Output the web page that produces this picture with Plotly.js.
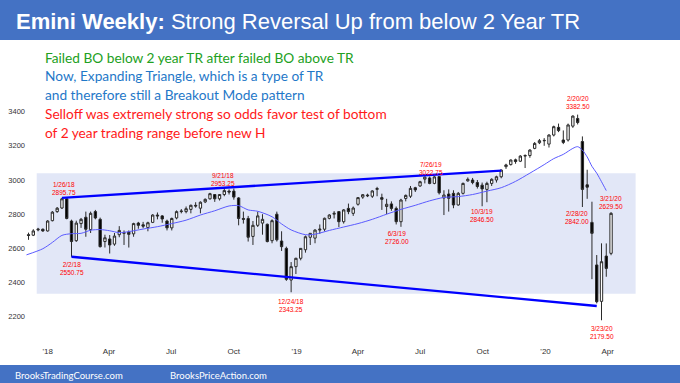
<!DOCTYPE html>
<html><head><meta charset="utf-8">
<script src="https://cdn.plot.ly/plotly-3.0.1.min.js"></script>
<style>html,body{margin:0;padding:0;background:#fff;}#chart{width:680px;height:383px;}</style>
</head><body><div id="chart"></div>
<script>
// Weekly bars (week start dates)
const weekStarts = [
'2017-12-04','2017-12-11','2017-12-18','2017-12-25',
'2018-01-01','2018-01-08','2018-01-15','2018-01-22','2018-01-29','2018-02-05','2018-02-12','2018-02-19','2018-02-26',
'2018-03-05','2018-03-12','2018-03-19','2018-03-26','2018-04-02','2018-04-09','2018-04-16','2018-04-23','2018-04-30',
'2018-05-07','2018-05-14','2018-05-21','2018-05-28','2018-06-04','2018-06-11','2018-06-18','2018-06-25','2018-07-02',
'2018-07-09','2018-07-16','2018-07-23','2018-07-30','2018-08-06','2018-08-13','2018-08-20','2018-08-27','2018-09-03',
'2018-09-10','2018-09-17','2018-09-24','2018-10-01','2018-10-08','2018-10-15','2018-10-22','2018-10-29','2018-11-05',
'2018-11-12','2018-11-19','2018-11-26','2018-12-03','2018-12-10','2018-12-17','2018-12-24','2018-12-31',
'2019-01-07','2019-01-14','2019-01-21','2019-01-28','2019-02-04','2019-02-11','2019-02-18','2019-02-25','2019-03-04',
'2019-03-11','2019-03-18','2019-03-25','2019-04-01','2019-04-08','2019-04-15','2019-04-22','2019-04-29','2019-05-06',
'2019-05-13','2019-05-20','2019-05-27','2019-06-03','2019-06-10','2019-06-17','2019-06-24','2019-07-01','2019-07-08',
'2019-07-15','2019-07-22','2019-07-29','2019-08-05','2019-08-12','2019-08-19','2019-08-26','2019-09-02','2019-09-09',
'2019-09-16','2019-09-23','2019-09-30','2019-10-07','2019-10-14','2019-10-21','2019-10-28','2019-11-04','2019-11-11',
'2019-11-18','2019-11-25','2019-12-02','2019-12-09','2019-12-16','2019-12-23','2019-12-30',
'2020-01-06','2020-01-13','2020-01-20','2020-01-27','2020-02-03','2020-02-10','2020-02-17','2020-02-24','2020-03-02',
'2020-03-09','2020-03-16','2020-03-23','2020-03-30','2020-04-06'];

const openP = [2680,2677,2708,2712,
2702,2762,2815,2836,2890,2760,2645,2745,2782,2710,2815,2770,2640,2655,2625,2680,2688,2695,2685,2748,2738,2722,2752,2795,2790,2760,2720,2778,2815,2815,2828,2852,2835,2872,2890,2915,2890,2915,2935,2935,2895,2775,2775,2670,2735,2748,2741,2645,2800,2643,2600,2415,2493,
2542,2592,2665,2660,2707,2712,2776,2800,2815,2756,2834,2805,2858,2900,2912,2905,2945,2897,2845,2860,2834,2756,2892,2905,2955,2965,3005,3012,2980,3020,2895,2918,2922,2854,2922,2995,3000,2985,2970,2945,2980,3000,3019,3078,3090,3118,3110,3140,3143,3185,3218,3232,
3210,3263,3308,3234,3234,3315,3360,3225,2972,2752,2503,2290,2555,2571];

const highP = [2692,2712,2720,2716,
2765,2818,2842,2895.75,2893,2768,2762,2778,2815,2815,2825,2780,2680,2678,2690,2730,2705,2705,2750,2755,2755,2756,2800,2810,2795,2768,2780,2822,2830,2845,2856,2870,2875,2892,2925,2918,2918,2953.25,2945,2950,2900,2815,2790,2760,2815,2800,2745,2770,2815,2700,2610,2520,2545,
2602,2675,2690,2712,2740,2780,2800,2818,2818,2830,2862,2845,2900,2918,2920,2940,2960,2920,2890,2875,2845,2890,2915,2965,2960,2995,3020,3020,3022.75,3020,2940,2945,2940,2930,2985,3015,3012,3000,2985,2990,3010,3025,3062,3095,3120,3125,3145,3150,3180,3222,3240,3245,
3268,3318,3330,3290,3330,3378,3382.5,3255,3060,2873,2561,2629.5,2629,2812];

const lowP = [2650,2672,2700,2697,
2698,2758,2808,2830,2770,2550.75,2638,2720,2668,2690,2770,2605,2605,2570,2615,2665,2620,2605,2668,2715,2718,2700,2748,2770,2750,2705,2705,2770,2805,2805,2805,2838,2805,2865,2885,2872,2880,2905,2915,2885,2735,2745,2640,2620,2725,2680,2635,2630,2640,2585,2410,2343.25,2450,
2530,2575,2620,2630,2685,2700,2770,2775,2725,2745,2800,2790,2850,2890,2900,2895,2905,2825,2800,2820,2740,2726,2875,2895,2930,2960,2980,2975,2975,2915,2795,2815,2835,2850,2915,2990,2975,2950,2846.5,2870,2965,2985,3010,3065,3085,3095,3105,3070,3130,3180,3210,3200,
3190,3255,3280,3210,3225,3305,3325,2842,2890,2420,2278,2179.5,2434,2560];

const closeP = [2676,2702,2712,2702,
2760,2812,2835,2890,2775,2640,2748,2770,2712,2805,2778,2610,2662,2620,2672,2705,2692,2682,2745,2735,2730,2750,2795,2790,2772,2720,2775,2815,2818,2832,2852,2848,2870,2887,2920,2890,2915,2938,2930,2900,2775,2770,2665,2735,2790,2770,2640,2762,2650,2610,2419,2493,2542,
2600,2668,2688,2707,2712,2776,2795,2805,2756,2825,2815,2836,2897,2914,2908,2936,2950,2887,2858,2834,2756,2883,2910,2951,2942,2990,3017,2980,3018,2925,2912,2893,2854,2922,2980,3004,2985,2962,2948,2980,3004,3019,3058,3088,3117,3108,3140,3143,3175,3214,3230,3230,
3263,3312,3289,3220,3322,3374,3336,2945,2958,2688,2288,2522,2483,2805];

// 20-week moving average
const maDates = ['2017-12-01','2017-12-25','2018-01-08','2018-01-22','2018-02-05','2018-02-19','2018-03-05','2018-03-19',
'2018-04-02','2018-04-16','2018-04-30','2018-05-21','2018-06-11','2018-07-02','2018-07-23','2018-08-13','2018-09-03',
'2018-09-24','2018-10-08','2018-10-22','2018-11-05','2018-11-26','2018-12-10','2018-12-24','2019-01-14','2019-01-28',
'2019-02-18','2019-03-11','2019-04-01','2019-04-22','2019-05-13','2019-06-03','2019-06-24','2019-07-15','2019-08-05',
'2019-08-26','2019-09-16','2019-10-07','2019-10-28','2019-11-18','2019-12-09','2019-12-30','2020-01-13','2020-01-27',
'2020-02-10','2020-02-17','2020-02-24','2020-03-02','2020-03-09','2020-03-16','2020-03-23','2020-03-30'];
const maValues = [2562,2598,2635,2676,2686,2688,2706,2710,
2703,2692,2698,2713,2727,2745,2765,2795,2820,
2848,2850,2825,2817,2785,2743,2708,2680,2683,
2705,2725,2745,2770,2800,2828,2852,2878,2898,
2903,2915,2935,2955,2992,3040,3090,3125,3150,
3185,3195,3175,3135,3080,3040,2990,2938];

// Trend lines of the expanding triangle
const topLineDates = ['2018-01-22','2019-10-28'];
const topLineValues = [2896, 3055];
const bottomLineDates = ['2018-02-05','2020-03-16'];
const bottomLineValues = [2551, 2263];

// Trading range zone
const zoneDates = ['2017-12-16','2020-05-12'];
const zoneValues = [2335, 3039];

// Price labels
const labelDates = ['2018-01-22','2018-02-05','2018-09-17','2018-12-24','2019-06-03','2019-07-22','2019-09-30','2020-02-17','2020-02-24','2020-04-06','2020-03-23'];
const labelTexts = ['1/26/18<br>2895.75','2/2/18<br>2550.75','9/21/18<br>2953.25','12/24/18<br>2343.25','6/3/19<br>2726.00','7/26/19<br>3022.75','10/3/19<br>2846.50','2/20/20<br>3382.50','2/28/20<br>2842.00','3/21/20<br>2629.50','3/23/20<br>2179.50'];
const labelAnchors = [2895.75,2550.75,2953.25,2343.25,2726,3022.75,2846.5,3382.5,2842,2812,2179.5];
const labelShiftY = [9,-12,8,-13,-11,8,-9,12,-10,10,-12];
const labelShiftX = [2,0,-1,0,-4,-3,0,0,-5,0,0];

const tickDates = ['2018-01-01','2018-04-01','2018-07-01','2018-10-01','2019-01-01','2019-04-01','2019-07-01','2019-10-01','2020-01-01','2020-04-01'];
const tickTexts = ["'18","Apr","Jul","Oct","'19","Apr","Jul","Oct","'20","Apr"];

const commentLines = ['Failed BO below 2 year TR after failed BO above TR','Now, Expanding Triangle, which is a type of TR','and therefore still a Breakout Mode pattern','Selloff was extremely strong so odds favor test of bottom','of 2 year trading range before new H'];
const commentColors = ['#22a022','#1f78c8','#1f78c8','#ff1a1a','#ff1a1a'];

// layout geometry (pixels)
const L = 26, R = 0, T = 45, B = 38, W = 680 - L - R, H = 383 - T - B;
const px = p => (p - L) / W;
const py = p => (383 - B - p) / H;
const blue = '#4472c4';

const traces = [
  {type:'scatter', mode:'lines', x: maDates, y: maValues, line:{color:'#5b5bff', width:1, shape:'spline', smoothing:0.8}, hoverinfo:'skip'},
  {type:'candlestick', x: weekStarts, open: openP, high: highP, low: lowP, close: closeP,
   increasing:{line:{color:'#2a2a2a', width:1}, fillcolor:'#ffffff'},
   decreasing:{line:{color:'#2a2a2a', width:1}, fillcolor:'#000000'},
   whiskerwidth:0, hoverinfo:'skip'},
  {type:'scatter', mode:'lines', x: topLineDates, y: topLineValues, line:{color:'#0000ff', width:2.3}, hoverinfo:'skip'},
  {type:'scatter', mode:'lines', x: bottomLineDates, y: bottomLineValues, line:{color:'#0000ff', width:2.3}, hoverinfo:'skip'}
];

const annotations = [];
labelDates.forEach((d,i) => annotations.push({x:d, y:labelAnchors[i], xref:'x', yref:'y', text:labelTexts[i], showarrow:false,
  xanchor:'center', yanchor:'middle', yshift:labelShiftY[i], xshift:labelShiftX[i],
  font:{family:'Arial, Liberation Sans', size:6.5, color:'#ff0000'}}));
commentLines.forEach((t,i) => annotations.push({x:px(43), y:py(57 + i*18.8), xref:'paper', yref:'paper', text:t, showarrow:false,
  xanchor:'left', yanchor:'middle', font:{family:'Lato', size:13.7, color:commentColors[i]}}));
annotations.push({x:px(13), y:py(375), xref:'paper', yref:'paper', text:'BrooksTradingCourse.com', showarrow:false, xanchor:'left', yanchor:'middle', font:{family:'Lato', size:9.5, color:'#ffffff'}});
annotations.push({x:px(168), y:py(375), xref:'paper', yref:'paper', text:'BrooksPriceAction.com', showarrow:false, xanchor:'left', yanchor:'middle', font:{family:'Lato', size:9.5, color:'#ffffff'}});

const layout = {
  width:680, height:383, margin:{l:L, r:R, t:T, b:B},
  paper_bgcolor:'#ffffff', plot_bgcolor:'#ffffff', showlegend:false,
  title:{text:'<b>Emini Weekly:</b> Strong Reversal Up from below 2 Year TR', font:{family:'Arial, Liberation Sans', size:22, color:'#ffffff'},
    x:16/680, xanchor:'left', xref:'container', y:1-21/383, yanchor:'middle', yref:'container'},
  xaxis:{type:'date', range:['2017-11-30 07:00','2020-07-16 02:00'], rangeslider:{visible:false}, showgrid:false, zeroline:false,
    showline:false, ticks:'', tickvals:tickDates, ticktext:tickTexts, tickfont:{family:'Arial, Liberation Sans', size:8, color:'#333'}, fixedrange:true},
  yaxis:{range:[2034.75, 3789.75], showgrid:false, zeroline:false, showline:false, ticks:'', tickvals:[2200,2400,2600,2800,3000,3200,3400],
    tickfont:{family:'Arial, Liberation Sans', size:7.5, color:'#333'}, fixedrange:true},
  shapes:[
    {type:'rect', xref:'x', yref:'y', x0:zoneDates[0], x1:zoneDates[1], y0:zoneValues[0], y1:zoneValues[1], fillcolor:'#e2e7f7', line:{width:0}, layer:'below'},
    {type:'rect', xref:'paper', yref:'paper', x0:px(0), x1:px(680), y0:py(40), y1:py(0), fillcolor:blue, line:{width:0}, layer:'below'},
    {type:'rect', xref:'paper', yref:'paper', x0:px(0), x1:px(680), y0:py(383), y1:py(365), fillcolor:blue, line:{width:0}, layer:'below'}
  ],
  annotations: annotations
};

Plotly.newPlot('chart', traces, layout, {staticPlot:true, displayModeBar:false});
</script>
</body></html>
